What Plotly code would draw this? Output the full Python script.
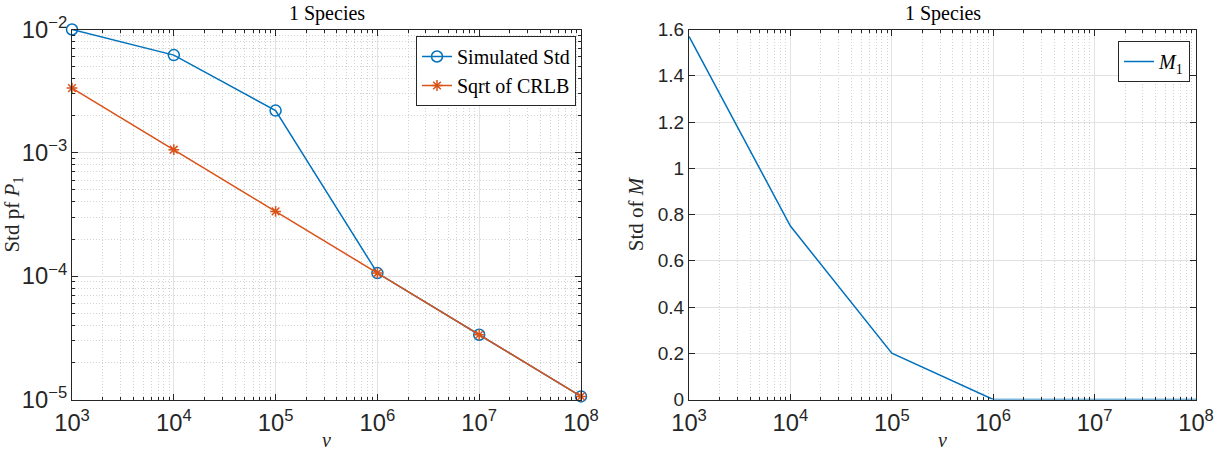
import plotly.graph_objects as go

nu = [1e3, 1e4, 1e5, 1e6, 1e7, 1e8]
sim_std = [1.0e-2, 6.2e-3, 2.2e-3, 1.06e-4, 3.35e-5, 1.06e-5]
sqrt_crlb = [3.35e-3, 1.06e-3, 3.35e-4, 1.06e-4, 3.35e-5, 1.06e-5]
std_m = [1.57, 0.75, 0.2, 0.0, 0.0, 0.0]

BLUE = "#0072BD"
ORANGE = "#D95319"
AX = "#262626"
SERIF = "Liberation Serif, DejaVu Serif, serif"
SANS = "Liberation Sans, Arial, sans-serif"

fig = go.Figure()
fig.add_trace(go.Scatter(x=nu, y=sim_std, mode="lines+markers", name="Simulated Std",
                         line=dict(color=BLUE, width=1.5),
                         marker=dict(symbol="circle-open", size=11, color=BLUE, line=dict(width=1.5)),
                         xaxis="x", yaxis="y", legend="legend", cliponaxis=False))
fig.add_trace(go.Scatter(x=nu, y=sqrt_crlb, mode="lines+markers", name="Sqrt of CRLB",
                         line=dict(color=ORANGE, width=1.5),
                         marker=dict(symbol="asterisk-open", size=9, color=ORANGE, line=dict(width=1.5, color=ORANGE)),
                         xaxis="x", yaxis="y", legend="legend", cliponaxis=False))
fig.add_trace(go.Scatter(x=nu, y=std_m, mode="lines", name="<i>M</i><sub>1</sub>",
                         line=dict(color=BLUE, width=1.5),
                         xaxis="x2", yaxis="y2", legend="legend2", cliponaxis=False))

L = [72/1221, 581/1221]
R = [689/1221, 1196/1221]
Y = [1-399.5/451, 1-29.5/451]

MINOR = dict(ticks="inside", ticklen=3, tickcolor=AX, showgrid=True,
             gridcolor="#d2d2d2", griddash="1px,2px", gridwidth=1)

common = dict(showline=True, linecolor=AX, linewidth=1, mirror="ticks", ticks="inside",
              tickcolor=AX, ticklen=6, tickfont=dict(family=SANS, size=19, color=AX),
              gridcolor="#e2e2e2", gridwidth=1, zeroline=False, automargin=False)
EPS = 1e-6
logx = dict(common, type="log", range=[3 - EPS, 8 + EPS], dtick=1, exponentformat="power",
            showexponent="all", minor=MINOR, ticklabelstandoff=3,
            title=dict(text="<i>ν</i>", font=dict(family=SERIF, size=20, color=AX), standoff=3))

fig.update_layout(
    width=1221, height=451, margin=dict(l=0, r=0, t=0, b=0),
    paper_bgcolor="white", plot_bgcolor="white",
    xaxis=dict(logx, domain=L, anchor="y"),
    yaxis=dict(common, type="log", range=[-5 - EPS, -2 + EPS], dtick=1, exponentformat="power",
               showexponent="all", domain=Y, anchor="x", minor=MINOR,
               title=dict(text="Std pf <i>P</i><sub>1</sub>", font=dict(family=SERIF, size=21, color=AX), standoff=6)),
    xaxis2=dict(logx, domain=R, anchor="y2"),
    yaxis2=dict(common, range=[0, 1.6], dtick=0.2, domain=Y, anchor="x2",
                title=dict(text="Std of <i>M</i>", font=dict(family=SERIF, size=21, color=AX), standoff=8)),
    legend=dict(x=576/1221, xanchor="right", y=1-36/451, yanchor="top",
                bgcolor="white", bordercolor=AX, borderwidth=1,
                font=dict(family=SERIF, size=20, color="black"), tracegroupgap=0,
                itemwidth=30),
    legend2=dict(x=1190/1221, xanchor="right", y=1-41/451, yanchor="top",
                 bgcolor="white", bordercolor=AX, borderwidth=1,
                 font=dict(family=SERIF, size=20, color="black"), itemwidth=30),
    showlegend=True,
    annotations=[
        dict(text="1 Species", x=(L[0]+L[1])/2, y=Y[1], xref="paper", yref="paper",
             xanchor="center", yanchor="bottom", yshift=3, showarrow=False,
             font=dict(family=SERIF, size=20, color="black")),
        dict(text="1 Species", x=(R[0]+R[1])/2, y=Y[1], xref="paper", yref="paper",
             xanchor="center", yanchor="bottom", yshift=3, showarrow=False,
             font=dict(family=SERIF, size=20, color="black")),
    ],
)

fig.write_html("out.html")
